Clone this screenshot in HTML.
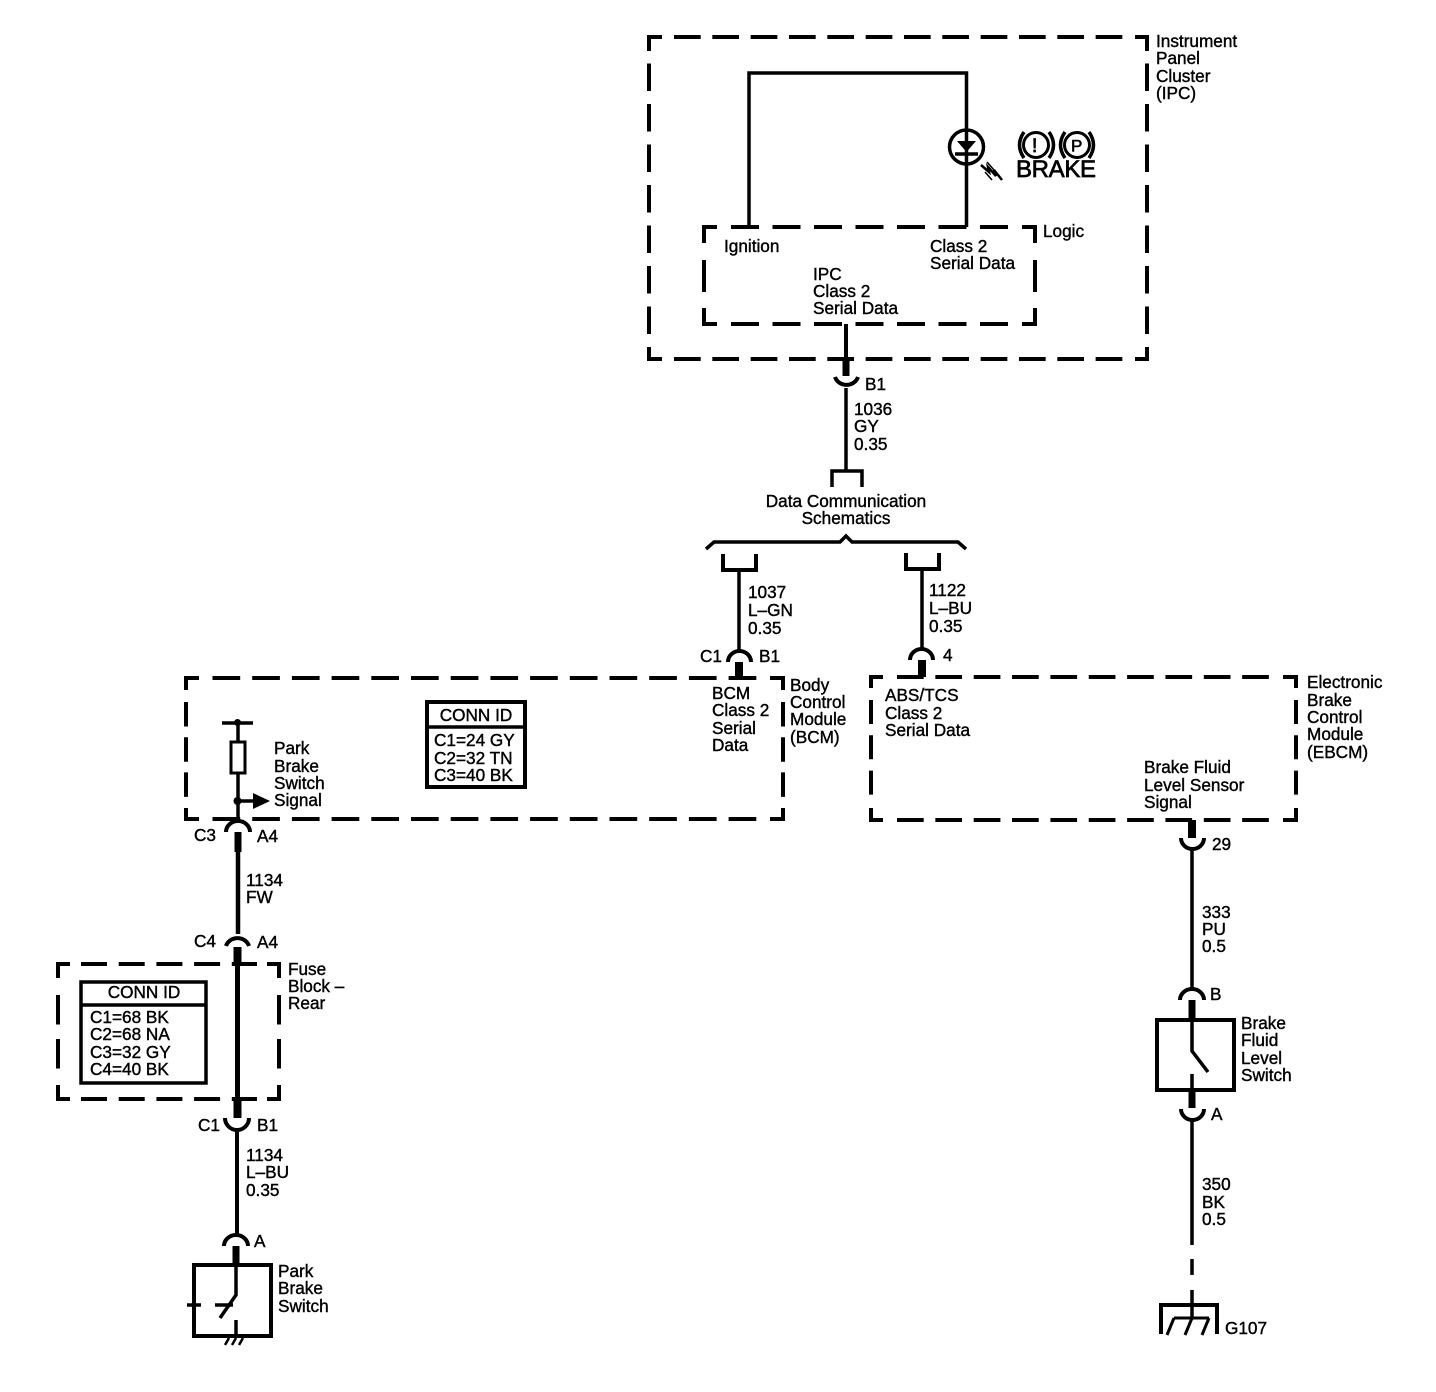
<!DOCTYPE html>
<html>
<head>
<meta charset="utf-8">
<style>
html,body{margin:0;padding:0;background:#fff}
svg{display:block}
text{font-family:"Liberation Sans",sans-serif;font-size:17.2px;fill:#000;stroke:#000;stroke-width:.4}
.w{fill:none;stroke:#000;stroke-width:3.5}
.w4{fill:none;stroke:#000;stroke-width:4}
.w5{fill:none;stroke:#000;stroke-width:5}
.s{fill:none;stroke:#000;stroke-width:8}
.c{fill:none;stroke:#000;stroke-width:4}
</style>
</head>
<body>
<svg width="1436" height="1392" viewBox="0 0 1436 1392" xmlns="http://www.w3.org/2000/svg">
<!-- IPC dashed box -->
<path class="c" d="M662 37H649V51M1135 37H1147V51M649 347V359H662M1147 347V359H1135"/>
<path class="c" style="stroke-dasharray:26.700 11.630" d="M674 37H1123M674 359H1123"/>
<path class="c" style="stroke-dasharray:27.500 13" d="M649 63.500V334M1147 63.500V334"/>
<!-- Logic dashed box -->
<path class="c" d="M717 227H704V243M1022 227H1035V243M704 308V324H717M1035 308V324H1022"/>
<path class="c" style="stroke-dasharray:28 13.500" d="M731 227H1009M731 324H1009"/>
<path class="c" d="M704 260V292M1035 260V292"/>
<!-- BCM dashed box -->
<path class="c" d="M199 678H186V690M770 678H783V690M186 808V819H199M783 808V819H770"/>
<path class="c" style="stroke-dasharray:27.700 12" d="M212.500 678H757M212.500 819H757"/>
<path class="c" style="stroke-dasharray:24.500 10.700" d="M186 702V797M783 702V797"/>
<!-- EBCM dashed box -->
<path class="c" d="M883 677H871V688M1283 677H1296V688M871 808V820H883M1296 808V820H1283"/>
<path class="c" style="stroke-dasharray:26.700 11.650" d="M897 677H1272M897 820H1272"/>
<path class="c" style="stroke-dasharray:24 11.300" d="M871 700V796M1296 700V796"/>
<!-- Fuse dashed box -->
<path class="c" d="M70 964H58V978M267 964H279V978M58 1085V1099H70M279 1085V1099H267"/>
<path class="c" style="stroke-dasharray:26 11.700" d="M81 964H257M81 1099H257"/>
<path class="c" style="stroke-dasharray:29.500 14.500" d="M58 995V1069M279 995V1069"/>

<!-- IPC internals -->
<path class="w" d="M749 227V73H966.500V227"/>
<circle cx="966.500" cy="147" r="17" fill="none" stroke="#000" stroke-width="3.500"/>
<path d="M957 141H976L966.500 152Z" fill="#000"/>
<path class="w" d="M955 154H978"/>
<path d="M981 165L989 172L988 167L996 176L994 170L1002 180" fill="none" stroke="#000" stroke-width="2.500"/>
<path d="M987 162L994 170M985 172L992 180" fill="none" stroke="#000" stroke-width="1.500"/>
<circle cx="1036" cy="145" r="12.500" fill="none" stroke="#000" stroke-width="3"/>
<circle cx="1077" cy="145" r="12.500" fill="none" stroke="#000" stroke-width="3"/>
<path d="M1024 132Q1015 145 1024 158M1049 132Q1058 145 1049 158M1065 132Q1056 145 1065 158M1089 132Q1098 145 1089 158" fill="none" stroke="#000" stroke-width="3.500"/>
<text x="1032" y="152" style="font-size:19px;stroke-width:.8">!</text>
<text x="1071" y="151.500" style="font-size:17px;stroke-width:.6">P</text>
<text x="1016" y="177" style="font-size:24px;stroke-width:.7" textLength="80">BRAKE</text>

<text x="1156" y="47">Instrument</text>
<text x="1156" y="64">Panel</text>
<text x="1156" y="82">Cluster</text>
<text x="1156" y="99">(IPC)</text>
<text x="1043" y="237">Logic</text>
<text x="724" y="252">Ignition</text>
<text x="930" y="252">Class 2</text>
<text x="930" y="269">Serial Data</text>
<text x="813" y="280">IPC</text>
<text x="813" y="297">Class 2</text>
<text x="813" y="314">Serial Data</text>

<!-- B1 under IPC -->
<path class="w4" d="M846 324V360"/>
<path class="s" style="stroke-width:7" d="M846 359V376"/>
<path class="w4" d="M835 377A12 11 0 0 0 858 377"/>
<path class="w" d="M846 388V471"/>
<text x="865" y="390">B1</text>
<text x="854" y="415">1036</text>
<text x="854" y="432">GY</text>
<text x="854" y="450">0.35</text>
<path class="w" d="M832 487V471H862V487"/>
<text x="846" y="507" text-anchor="middle">Data Communication</text>
<text x="846" y="524" text-anchor="middle">Schematics</text>
<path class="w" d="M706 549L714 542H840L846 536L852 542H958L966 549"/>

<!-- left branch -->
<path class="w4" d="M723 554V570H756V554"/>
<path class="w" d="M739 570V652"/>
<text x="748" y="598">1037</text>
<text x="748" y="616">L&#8211;GN</text>
<text x="748" y="634">0.35</text>
<path class="w4" d="M728 662A11.500 11 0 0 1 751 662"/>
<path class="s" d="M739 662V678"/>
<text x="700" y="662">C1</text>
<text x="759" y="662">B1</text>

<!-- right branch -->
<path class="w4" d="M906 553V569H939V553"/>
<path class="w" d="M922 569V650"/>
<text x="929" y="596">1122</text>
<text x="929" y="614">L&#8211;BU</text>
<text x="929" y="632">0.35</text>
<path class="w4" d="M910 660A11.500 11 0 0 1 933 660"/>
<path class="s" d="M922 660V677"/>
<text x="943" y="661">4</text>

<!-- BCM -->
<text x="712" y="699">BCM</text>
<text x="712" y="716">Class 2</text>
<text x="712" y="734">Serial</text>
<text x="712" y="751">Data</text>
<text x="790" y="691">Body</text>
<text x="790" y="708">Control</text>
<text x="790" y="725">Module</text>
<text x="790" y="743">(BCM)</text>
<rect x="427" y="702" width="98" height="85" fill="none" stroke="#000" stroke-width="4"/>
<path class="w" d="M427 727H525"/>
<text x="476" y="721" text-anchor="middle">CONN ID</text>
<text x="434" y="746">C1=24 GY</text>
<text x="434" y="764">C2=32 TN</text>
<text x="434" y="781">C3=40 BK</text>

<path class="w" d="M222 723H253"/>
<circle cx="237.500" cy="722.500" r="3.500"/>
<path class="w" d="M238 723V742M238 773V821"/>
<rect x="231" y="742" width="14" height="31" fill="none" stroke="#000" stroke-width="3"/>
<circle cx="237.500" cy="801" r="4"/>
<path class="w" d="M238 801H256"/>
<path d="M253 793L270 801L253 809Z"/>
<text x="274" y="754">Park</text>
<text x="274" y="772">Brake</text>
<text x="274" y="789">Switch</text>
<text x="274" y="806">Signal</text>

<!-- C3/A4 -->
<path class="w4" d="M226 832A12 11 0 0 1 250 832"/>
<path class="s" style="stroke-width:7" d="M238 832V852"/>
<path class="w" style="stroke-width:4.500" d="M238 850V934"/>
<text x="194" y="841">C3</text>
<text x="257" y="842">A4</text>
<text x="246" y="886">1134</text>
<text x="246" y="903">FW</text>
<path class="w4" d="M226 946A12 11 0 0 1 249 946"/>
<text x="194" y="947">C4</text>
<text x="257" y="948">A4</text>
<path class="s" style="stroke-width:8" d="M237.500 947V966"/>
<path class="w5" d="M237.500 965V1101"/>
<path class="s" style="stroke-width:8" d="M237.500 1100V1118"/>

<!-- fuse block -->
<text x="288" y="975">Fuse</text>
<text x="288" y="992">Block &#8211;</text>
<text x="288" y="1009">Rear</text>
<rect x="81" y="982" width="125" height="101" fill="none" stroke="#000" stroke-width="3.500"/>
<path class="w" d="M81 1005H206"/>
<text x="144" y="998" text-anchor="middle">CONN ID</text>
<text x="90" y="1023">C1=68 BK</text>
<text x="90" y="1040">C2=68 NA</text>
<text x="90" y="1058">C3=32 GY</text>
<text x="90" y="1075">C4=40 BK</text>

<!-- C1/B1 lower -->
<path class="w4" d="M225 1118A12 12 0 0 0 249 1118"/>
<path class="w" style="stroke-width:4" d="M237 1130V1235"/>
<text x="198" y="1131">C1</text>
<text x="257" y="1131">B1</text>
<text x="246" y="1161">1134</text>
<text x="246" y="1178">L&#8211;BU</text>
<text x="246" y="1196">0.35</text>
<path class="w4" d="M224 1246A12 11 0 0 1 248 1246"/>
<text x="254" y="1247">A</text>
<path class="s" style="stroke-width:7" d="M236 1246V1265"/>

<!-- park brake switch -->
<rect x="194" y="1265" width="77" height="71" fill="none" stroke="#000" stroke-width="4"/>
<path class="w" d="M236 1265V1295L220 1318M215 1305H233M187 1305H201M236 1320V1336"/>
<path d="M229 1338L225 1345M236 1338L232 1345M243 1338L239 1345" fill="none" stroke="#000" stroke-width="2.500"/>
<text x="278" y="1277">Park</text>
<text x="278" y="1294">Brake</text>
<text x="278" y="1312">Switch</text>

<!-- EBCM -->
<text x="885" y="701">ABS/TCS</text>
<text x="885" y="719">Class 2</text>
<text x="885" y="736">Serial Data</text>
<text x="1144" y="773">Brake Fluid</text>
<text x="1144" y="791">Level Sensor</text>
<text x="1144" y="808">Signal</text>
<text x="1307" y="688">Electronic</text>
<text x="1307" y="706">Brake</text>
<text x="1307" y="723">Control</text>
<text x="1307" y="740">Module</text>
<text x="1307" y="758">(EBCM)</text>

<path class="s" d="M1192 820V838"/>
<path class="w4" d="M1181 838A11.500 11 0 0 0 1204 838"/>
<path class="w" d="M1192 849V990"/>
<text x="1212" y="850">29</text>
<text x="1202" y="918">333</text>
<text x="1202" y="935">PU</text>
<text x="1202" y="952">0.5</text>
<path class="w4" d="M1180 1000A12 11 0 0 1 1204 1000"/>
<text x="1210" y="1000">B</text>
<path class="s" style="stroke-width:7" d="M1192 1000V1019"/>

<!-- brake fluid switch -->
<rect x="1157" y="1020" width="77" height="70" fill="none" stroke="#000" stroke-width="4"/>
<path class="w" d="M1192 1019V1051L1208 1072M1192 1074V1091"/>
<text x="1241" y="1029">Brake</text>
<text x="1241" y="1046">Fluid</text>
<text x="1241" y="1064">Level</text>
<text x="1241" y="1081">Switch</text>
<path class="s" style="stroke-width:7" d="M1192 1091V1108"/>
<path class="w4" d="M1181 1109A11.500 11 0 0 0 1204 1109"/>
<text x="1211" y="1120">A</text>
<path class="w" d="M1192 1120V1245M1192 1259V1275M1192 1290V1318"/>
<text x="1202" y="1190">350</text>
<text x="1202" y="1208">BK</text>
<text x="1202" y="1225">0.5</text>

<!-- ground -->
<path class="w4" d="M1161 1334V1305H1217V1334"/>
<path class="w" style="stroke-width:3" d="M1174 1318H1209M1174 1318L1167 1335M1192 1318L1185 1335M1209 1318L1202 1335"/>
<text x="1225" y="1334">G107</text>
</svg>
</body>
</html>
